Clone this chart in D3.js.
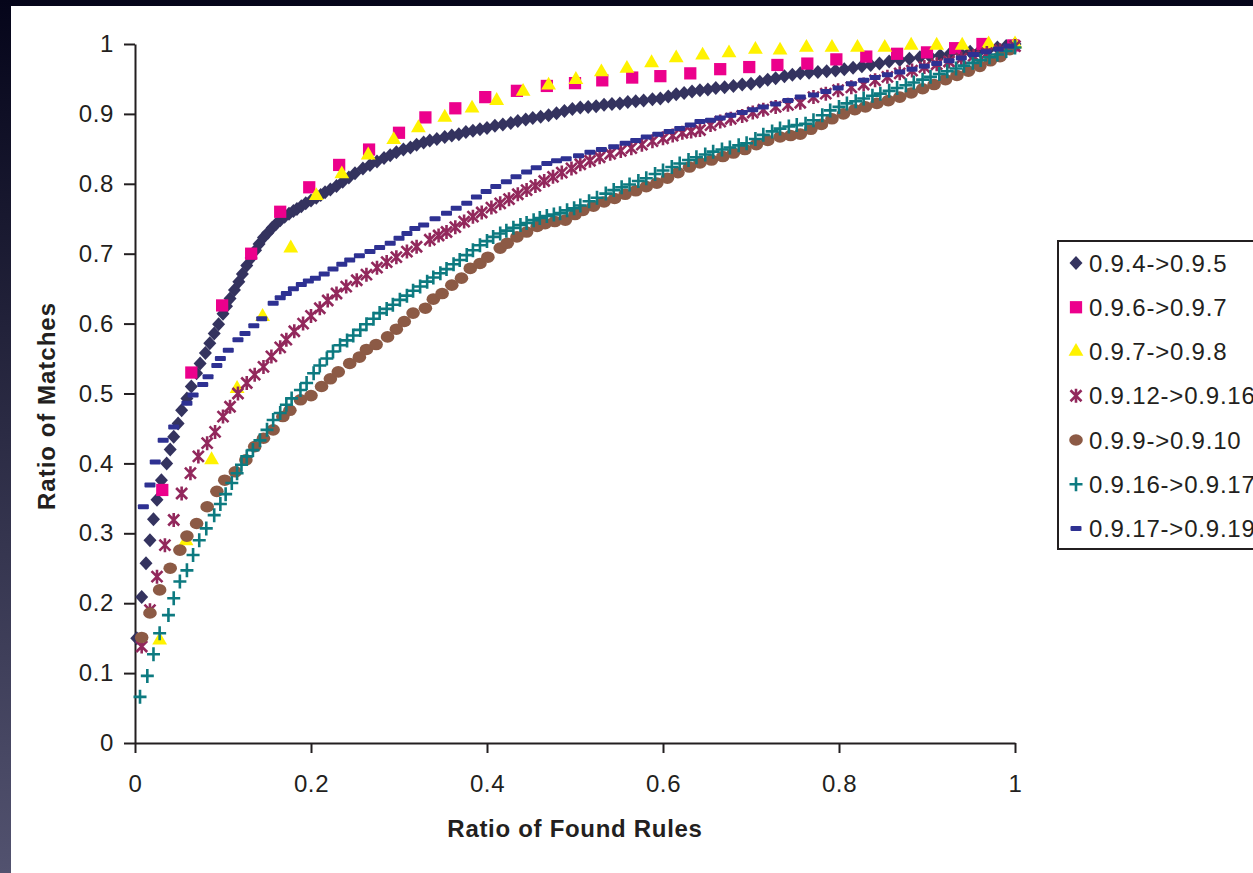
<!DOCTYPE html>
<html lang="en">
<head>
  <meta charset="UTF-8">
  <title>Ratio of Matches</title>
  <script src="https://d3js.org/d3.v7.min.js"></script>
  <style>
    body { margin: 0; background: #fff; }
    svg { display: block; font-family: "Liberation Sans", Arial, sans-serif; }
  </style>
</head>
<body>
<div id="chart"></div>
<script>
// series names, in legend order
const seriesNames = ["0.9.4->0.9.5", "0.9.6->0.9.7", "0.9.7->0.9.8", "0.9.12->0.9.16",
                     "0.9.9->0.9.10", "0.9.16->0.9.17", "0.9.17->0.9.19"];

const xTicks = [0, 0.2, 0.4, 0.6, 0.8, 1];
const yTicks = [0, 0.1, 0.2, 0.3, 0.4, 0.5, 0.6, 0.7, 0.8, 0.9, 1];

// [ratio of found rules, ratio of matches]
const s_0_9_4 = [[0.002,0.150],[0.0076,0.209],[0.0125,0.257],[0.017,0.290],[0.021,0.320],[0.025,0.348],[0.030,0.376],[0.036,0.400],[0.040,0.420],[0.044,0.438],[0.049,0.457],[0.053,0.476],[0.059,0.493],[0.064,0.510],[0.070,0.529],[0.074,0.543],[0.080,0.558],[0.085,0.572],[0.090,0.586],[0.095,0.599],[0.100,0.614],[0.104,0.625],[0.108,0.636],[0.113,0.648],[0.118,0.660],[0.122,0.671],[0.127,0.683],[0.132,0.694],[0.137,0.705],[0.141,0.714],[0.146,0.723],[0.151,0.730],[0.156,0.737],[0.160,0.742],[0.165,0.748],[0.170,0.753],[0.175,0.757],[0.180,0.761],[0.184,0.764],[0.189,0.768],[0.194,0.772],[0.200,0.776],[0.206,0.780],[0.211,0.784],[0.216,0.788],[0.222,0.792],[0.229,0.797],[0.236,0.803],[0.243,0.809],[0.250,0.815],[0.259,0.822],[0.267,0.827],[0.275,0.832],[0.283,0.837],[0.290,0.841],[0.297,0.845],[0.305,0.849],[0.313,0.852],[0.320,0.856],[0.328,0.859],[0.335,0.862],[0.343,0.864],[0.352,0.867],[0.360,0.869],[0.368,0.871],[0.376,0.874],[0.384,0.876],[0.392,0.878],[0.400,0.880],[0.409,0.883],[0.418,0.885],[0.427,0.887],[0.435,0.890],[0.444,0.892],[0.452,0.894],[0.461,0.896],[0.470,0.898],[0.479,0.901],[0.488,0.904],[0.497,0.907],[0.506,0.909],[0.515,0.910],[0.524,0.911],[0.533,0.913],[0.542,0.914],[0.551,0.915],[0.560,0.917],[0.569,0.918],[0.578,0.919],[0.588,0.921],[0.597,0.922],[0.606,0.925],[0.615,0.928],[0.624,0.930],[0.633,0.932],[0.642,0.934],[0.651,0.935],[0.660,0.937],[0.670,0.938],[0.680,0.940],[0.690,0.942],[0.700,0.943],[0.710,0.946],[0.719,0.949],[0.728,0.951],[0.738,0.954],[0.747,0.956],[0.756,0.958],[0.766,0.959],[0.776,0.960],[0.786,0.961],[0.796,0.962],[0.806,0.964],[0.816,0.966],[0.826,0.968],[0.836,0.970],[0.846,0.972],[0.857,0.975],[0.869,0.977],[0.880,0.979],[0.892,0.981],[0.903,0.983],[0.915,0.984],[0.926,0.986],[0.938,0.987],[0.949,0.989],[0.960,0.990],[0.970,0.992],[0.980,0.995],[0.990,0.997],[1.000,1.000]];

const s_0_9_6 = [[0.031,0.362],[0.064,0.530],[0.099,0.626],[0.132,0.700],[0.165,0.760],[0.198,0.795],[0.232,0.827],[0.266,0.849],[0.300,0.873],[0.330,0.895],[0.364,0.908],[0.398,0.924],[0.434,0.933],[0.468,0.940],[0.500,0.944],[0.531,0.948],[0.565,0.952],[0.597,0.954],[0.631,0.958],[0.665,0.964],[0.698,0.967],[0.730,0.970],[0.764,0.972],[0.797,0.978],[0.831,0.982],[0.866,0.986],[0.900,0.988],[0.932,0.994],[0.963,1.000],[0.998,0.998]];

const s_0_9_7 = [[0.028,0.147],[0.058,0.289],[0.087,0.405],[0.116,0.507],[0.145,0.610],[0.177,0.708],[0.206,0.783],[0.235,0.814],[0.265,0.841],[0.294,0.863],[0.322,0.880],[0.352,0.895],[0.383,0.908],[0.411,0.919],[0.441,0.932],[0.470,0.941],[0.501,0.949],[0.530,0.960],[0.559,0.965],[0.587,0.973],[0.615,0.980],[0.645,0.984],[0.675,0.987],[0.705,0.992],[0.733,0.991],[0.763,0.995],[0.792,0.995],[0.821,0.995],[0.852,0.995],[0.882,0.998],[0.911,0.998],[0.940,0.998],[0.970,1.000],[1.000,1.000]];

const s_0_9_12 = [[0.0076,0.138],[0.017,0.190],[0.025,0.238],[0.034,0.283],[0.044,0.319],[0.053,0.357],[0.063,0.386],[0.072,0.410],[0.082,0.429],[0.091,0.445],[0.100,0.467],[0.108,0.481],[0.117,0.500],[0.127,0.515],[0.136,0.527],[0.146,0.538],[0.155,0.553],[0.165,0.566],[0.172,0.577],[0.181,0.589],[0.191,0.600],[0.200,0.611],[0.210,0.622],[0.219,0.633],[0.229,0.643],[0.240,0.653],[0.252,0.662],[0.263,0.670],[0.275,0.680],[0.286,0.688],[0.297,0.695],[0.309,0.703],[0.320,0.710],[0.335,0.720],[0.345,0.726],[0.354,0.731],[0.364,0.738],[0.374,0.746],[0.384,0.753],[0.394,0.759],[0.405,0.766],[0.415,0.772],[0.425,0.778],[0.435,0.785],[0.445,0.791],[0.455,0.797],[0.465,0.804],[0.475,0.810],[0.485,0.816],[0.496,0.822],[0.506,0.828],[0.517,0.833],[0.528,0.838],[0.540,0.843],[0.552,0.847],[0.564,0.851],[0.576,0.856],[0.588,0.861],[0.600,0.865],[0.611,0.869],[0.622,0.873],[0.632,0.875],[0.642,0.877],[0.654,0.884],[0.665,0.889],[0.677,0.893],[0.690,0.897],[0.702,0.902],[0.714,0.906],[0.728,0.910],[0.742,0.913],[0.756,0.916],[0.771,0.924],[0.785,0.929],[0.799,0.934],[0.814,0.938],[0.828,0.942],[0.841,0.948],[0.855,0.953],[0.869,0.958],[0.883,0.962],[0.897,0.967],[0.911,0.971],[0.925,0.975],[0.939,0.979],[0.953,0.983],[0.968,0.987],[0.983,0.991],[1.000,0.997]];

const s_0_9_9 = [[0.0076,0.151],[0.017,0.186],[0.028,0.219],[0.040,0.250],[0.051,0.276],[0.059,0.296],[0.070,0.314],[0.082,0.338],[0.093,0.360],[0.102,0.376],[0.114,0.388],[0.126,0.405],[0.136,0.424],[0.146,0.436],[0.157,0.448],[0.168,0.467],[0.176,0.476],[0.188,0.491],[0.200,0.497],[0.212,0.510],[0.222,0.521],[0.231,0.531],[0.244,0.543],[0.255,0.552],[0.263,0.563],[0.274,0.570],[0.287,0.581],[0.297,0.592],[0.306,0.603],[0.316,0.615],[0.330,0.622],[0.339,0.635],[0.349,0.643],[0.360,0.655],[0.371,0.665],[0.381,0.679],[0.392,0.686],[0.401,0.695],[0.415,0.708],[0.423,0.715],[0.434,0.724],[0.445,0.731],[0.457,0.739],[0.466,0.743],[0.477,0.746],[0.489,0.748],[0.500,0.756],[0.509,0.762],[0.521,0.768],[0.533,0.774],[0.545,0.779],[0.557,0.785],[0.569,0.790],[0.581,0.796],[0.593,0.801],[0.605,0.808],[0.617,0.816],[0.630,0.824],[0.642,0.830],[0.655,0.834],[0.668,0.839],[0.680,0.844],[0.693,0.849],[0.706,0.856],[0.719,0.862],[0.733,0.867],[0.745,0.869],[0.756,0.871],[0.768,0.878],[0.780,0.885],[0.792,0.893],[0.805,0.900],[0.818,0.906],[0.830,0.910],[0.843,0.915],[0.856,0.919],[0.869,0.924],[0.882,0.930],[0.895,0.936],[0.908,0.942],[0.921,0.949],[0.934,0.955],[0.947,0.961],[0.960,0.968],[0.972,0.976],[0.983,0.982],[0.994,0.992]];

const s_0_9_16 = [[0.0057,0.066],[0.014,0.096],[0.021,0.127],[0.028,0.157],[0.038,0.183],[0.044,0.207],[0.051,0.231],[0.059,0.247],[0.066,0.269],[0.073,0.290],[0.081,0.307],[0.090,0.326],[0.097,0.342],[0.103,0.356],[0.110,0.372],[0.116,0.386],[0.121,0.398],[0.127,0.410],[0.134,0.419],[0.142,0.433],[0.150,0.448],[0.157,0.462],[0.165,0.472],[0.172,0.484],[0.178,0.493],[0.188,0.505],[0.195,0.515],[0.203,0.529],[0.210,0.540],[0.218,0.550],[0.225,0.560],[0.233,0.569],[0.241,0.576],[0.248,0.583],[0.256,0.591],[0.263,0.599],[0.271,0.607],[0.278,0.615],[0.286,0.621],[0.293,0.627],[0.301,0.634],[0.309,0.640],[0.316,0.647],[0.324,0.653],[0.332,0.660],[0.339,0.666],[0.347,0.672],[0.354,0.678],[0.362,0.685],[0.369,0.691],[0.377,0.698],[0.384,0.705],[0.392,0.712],[0.400,0.718],[0.407,0.724],[0.415,0.729],[0.422,0.733],[0.430,0.737],[0.438,0.741],[0.445,0.744],[0.453,0.748],[0.460,0.751],[0.468,0.754],[0.476,0.756],[0.483,0.758],[0.491,0.762],[0.499,0.765],[0.506,0.769],[0.516,0.775],[0.525,0.780],[0.535,0.786],[0.544,0.791],[0.553,0.795],[0.562,0.799],[0.572,0.804],[0.581,0.808],[0.591,0.814],[0.600,0.819],[0.610,0.824],[0.619,0.829],[0.629,0.834],[0.638,0.838],[0.648,0.842],[0.657,0.846],[0.667,0.849],[0.676,0.852],[0.686,0.855],[0.695,0.858],[0.705,0.864],[0.714,0.870],[0.724,0.875],[0.733,0.879],[0.743,0.882],[0.752,0.884],[0.762,0.886],[0.771,0.891],[0.781,0.898],[0.790,0.905],[0.800,0.910],[0.809,0.915],[0.819,0.918],[0.828,0.922],[0.838,0.926],[0.847,0.929],[0.857,0.933],[0.866,0.937],[0.876,0.941],[0.885,0.945],[0.895,0.949],[0.904,0.953],[0.914,0.957],[0.923,0.961],[0.933,0.965],[0.942,0.969],[0.952,0.973],[0.961,0.977],[0.971,0.981],[0.980,0.985],[0.990,0.990],[1.000,0.995]];

const s_0_9_17 = [[0.0095,0.338],[0.017,0.369],[0.023,0.402],[0.032,0.433],[0.044,0.452],[0.059,0.486],[0.066,0.498],[0.077,0.513],[0.083,0.524],[0.093,0.540],[0.097,0.550],[0.106,0.562],[0.117,0.577],[0.125,0.586],[0.135,0.597],[0.144,0.607],[0.157,0.629],[0.165,0.637],[0.172,0.643],[0.180,0.650],[0.189,0.656],[0.197,0.661],[0.205,0.665],[0.215,0.671],[0.225,0.678],[0.235,0.685],[0.244,0.691],[0.255,0.697],[0.267,0.703],[0.278,0.709],[0.290,0.715],[0.300,0.722],[0.309,0.729],[0.318,0.736],[0.328,0.741],[0.341,0.750],[0.354,0.758],[0.365,0.765],[0.377,0.772],[0.388,0.781],[0.399,0.789],[0.410,0.796],[0.422,0.803],[0.433,0.810],[0.445,0.817],[0.456,0.823],[0.468,0.829],[0.479,0.833],[0.490,0.836],[0.504,0.840],[0.517,0.845],[0.530,0.849],[0.544,0.853],[0.557,0.858],[0.569,0.862],[0.581,0.867],[0.594,0.871],[0.607,0.875],[0.619,0.879],[0.631,0.884],[0.642,0.889],[0.654,0.891],[0.665,0.894],[0.677,0.898],[0.690,0.902],[0.702,0.906],[0.714,0.910],[0.728,0.914],[0.742,0.919],[0.756,0.924],[0.771,0.927],[0.785,0.932],[0.799,0.937],[0.814,0.943],[0.828,0.948],[0.841,0.952],[0.855,0.956],[0.869,0.960],[0.883,0.964],[0.897,0.968],[0.911,0.972],[0.925,0.976],[0.939,0.980],[0.953,0.985],[0.967,0.989],[0.981,0.993],[0.993,0.997]];

const seriesData = [s_0_9_4, s_0_9_6, s_0_9_7, s_0_9_12, s_0_9_9, s_0_9_16, s_0_9_17];
const seriesColors = ["#34335f", "#ec008c", "#fff200", "#92285c", "#8c5a45", "#0d7a80", "#2e3192"];
const seriesMarks = ["diamond", "square", "triangle", "asterisk", "circle", "plus", "dash"];

const W = 1253, H = 873;
const svg = d3.select("#chart").append("svg").attr("width", W).attr("height", H);

// dark slide frame on the top and left edge
const grad = svg.append("defs").append("linearGradient")
  .attr("id", "frame").attr("x1", 0).attr("y1", 0).attr("x2", 0).attr("y2", 1);
grad.append("stop").attr("offset", "0%").attr("stop-color", "#05051a");
grad.append("stop").attr("offset", "100%").attr("stop-color", "#52526f");
svg.append("rect").attr("width", W).attr("height", H).attr("fill", "url(#frame)");
svg.append("rect").attr("x", 11).attr("y", 6).attr("width", W - 11).attr("height", H - 6).attr("fill", "#fff");

const x = d3.scaleLinear().domain([0, 1]).range([135, 1015]);
const y = d3.scaleLinear().domain([0, 1]).range([743, 44]);

const axisColor = "#231f20";

const xAxis = svg.append("g")
  .attr("transform", `translate(0,${y(0)})`)
  .call(d3.axisBottom(x).tickValues(xTicks).tickSize(10).tickSizeOuter(0).tickPadding(21.5)
    .tickFormat(d => String(+d.toFixed(1))));
const yAxis = svg.append("g")
  .attr("transform", `translate(${x(0)},0)`)
  .call(d3.axisLeft(y).tickValues(yTicks).tickSize(11).tickSizeOuter(0).tickPadding(10)
    .tickFormat(d => String(+d.toFixed(1))));

[xAxis, yAxis].forEach(g => {
  g.select(".domain").attr("stroke", axisColor).attr("stroke-width", 2);
  g.selectAll(".tick line").attr("stroke", axisColor).attr("stroke-width", 2);
  g.selectAll(".tick text").attr("fill", "#231f20").style("font-size", "24px")
    .style("font-family", "'Liberation Sans', Arial, sans-serif").style("letter-spacing", "0.6px");
});

svg.append("text")
  .attr("x", 575).attr("y", 837)
  .attr("text-anchor", "middle")
  .style("font-size", "24px").style("font-weight", "bold").style("letter-spacing", "0.7px")
  .attr("fill", "#231f20")
  .text("Ratio of Found Rules");

svg.append("text")
  .attr("transform", "translate(55,406) rotate(-90)")
  .attr("text-anchor", "middle")
  .style("font-size", "24px").style("font-weight", "bold").style("letter-spacing", "1px")
  .attr("fill", "#231f20")
  .text("Ratio of Matches");

// marker drawing
function drawMark(sel, type, color) {
  if (type === "diamond") {
    sel.append("path").attr("d", "M0,-7L6.5,0L0,7L-6.5,0Z").attr("fill", color);
  } else if (type === "square") {
    sel.append("path").attr("d", d3.symbol(d3.symbolSquare, 150)()).attr("fill", color);
  } else if (type === "triangle") {
    sel.append("path").attr("d", d3.symbol(d3.symbolTriangle, 95)()).attr("fill", color);
  } else if (type === "circle") {
    sel.append("ellipse").attr("rx", 6.8).attr("ry", 5.8).attr("fill", color);
  } else if (type === "asterisk") {
    sel.append("path").attr("d", "M-5.5,-5.5L5.5,5.5M5.5,-5.5L-5.5,5.5M0,-7L0,7")
      .attr("stroke", color).attr("stroke-width", 2.6).attr("fill", "none");
  } else if (type === "plus") {
    sel.append("path").attr("d", "M-6.5,0L6.5,0M0,-7L0,7")
      .attr("stroke", color).attr("stroke-width", 2.6).attr("fill", "none");
  } else if (type === "dash") {
    sel.append("rect").attr("x", -5.5).attr("y", -2.5).attr("width", 11).attr("height", 5)
      .attr("rx", 1).attr("fill", color);
  }
}

const plot = svg.append("g");
seriesData.forEach((data, i) => {
  plot.append("g").selectAll("g")
    .data(data)
    .enter()
    .append("g")
    .attr("transform", d => `translate(${x(d[0])},${y(d[1])})`)
    .each(function () { drawMark(d3.select(this), seriesMarks[i], seriesColors[i]); });
});

// legend, cut by the right edge of the picture like the original
const legend = svg.append("g");
legend.append("rect")
  .attr("x", 1058).attr("y", 241).attr("width", 240).attr("height", 308)
  .attr("fill", "#fff").attr("stroke", axisColor).attr("stroke-width", 2);

const legendItem = legend.selectAll(".legend-item")
  .data(seriesNames)
  .enter()
  .append("g")
  .attr("transform", (d, i) => `translate(1076,${263 + i * 44.25})`);

legendItem.each(function (d, i) { drawMark(d3.select(this), seriesMarks[i], seriesColors[i]); });

legendItem.append("text")
  .attr("x", 13)
  .attr("dy", "0.36em")
  .style("font-size", "24px")
  .style("letter-spacing", "0.8px")
  .attr("fill", "#231f20")
  .text(d => d);
</script>
</body>
</html>
